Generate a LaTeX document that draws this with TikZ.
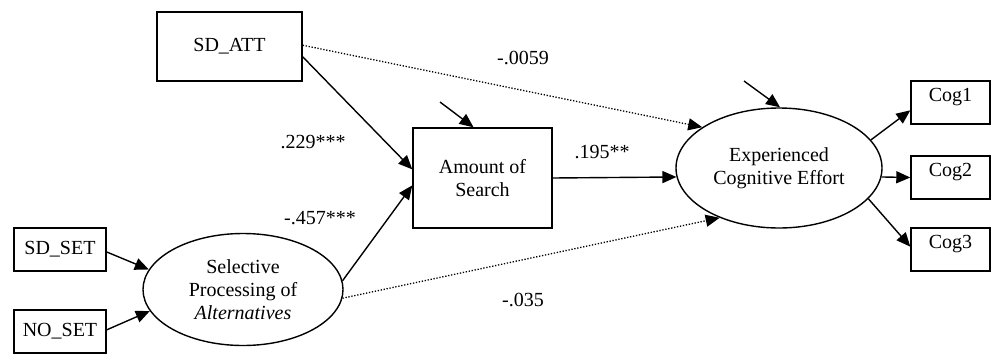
\documentclass[tikz,border=0pt]{standalone}
\usepackage{fontspec}
\setmainfont{Liberation Serif}
\usetikzlibrary{arrows.meta}
\usetikzlibrary{shapes}

\begin{document}
\begin{tikzpicture}[x=1pt,y=-1pt,font=\fontsize{20}{23}\selectfont,
    box/.style={draw,line width=1.4pt,inner sep=0pt,align=center},
    latent/.style={draw,ellipse,line width=1.4pt,inner sep=0pt,align=center},
    arr/.style={line width=1.4pt,-{Triangle[length=14pt,width=12pt]}},
    weak/.style={line width=1.3pt,dash pattern=on 1.3pt off 1.7pt,-{Triangle[length=14pt,width=12pt]}}]
      \useasboundingbox (0,0) rectangle (991,354);
      \node[box,minimum width=145pt,minimum height=69pt] (sdatt) at (229.5,46.5) {SD\_ATT};
      \node[box,minimum width=139pt,minimum height=100pt] (search) at (482.5,178) {Amount of\\Search};
      \node[box,minimum width=92pt,minimum height=43pt] (sdset) at (60,249.5) {SD\_SET};
      \node[box,minimum width=92pt,minimum height=43pt] (noset) at (60,331.5) {NO\_SET};
      \node[latent,minimum width=200pt,minimum height=112pt] (select) at (243,289.5) {Selective\\Processing of\\\textit{Alternatives}};
      \node[latent,minimum width=206pt,minimum height=120pt] (effort) at (779,168) {Experienced\\Cognitive Effort};
      \foreach \i/\y in {1/102.5,2/177.5,3/249.5} {
        \node[box,minimum width=79pt,minimum height=43pt] (cog\i) at (950.5,\y) {};
        \node (cogt\i) at (950.5,\y-5) {Cog\i};
      }
      \coordinate (err1) at (440,102);
      \coordinate (err2) at (744,81);
      \path (sdatt.-8) edge[arr] (search.173);
      \path (select.5) edge[arr] (search.186);
      \path (sdatt.1) edge[weak] (effort.152);
      \path (select.-5) edge[weak] (effort.220);
      \path (search.east) edge[arr] (effort.185);
      \path (sdset.-3) edge[arr] (select.168);
      \path (noset.2) edge[arr] (select.193);
      \path (effort.17) edge[arr] (cog1.191);
      \path (effort.-5) edge[arr] (cog2.west);
      \path (effort.-19) edge[arr] (cog3.176);
      \path (err1) edge[arr] (search.100);
      \path (err2) edge[arr] (effort.89);
      \node (c1) at (523,58) {-.0059};
      \node (c2) at (313,142) {.229***};
      \node (c3) at (320,218) {-.457***};
      \node (c4) at (602,152) {.195**};
      \node (c5) at (523,300) {-.035};
    \end{tikzpicture}
\end{document}
